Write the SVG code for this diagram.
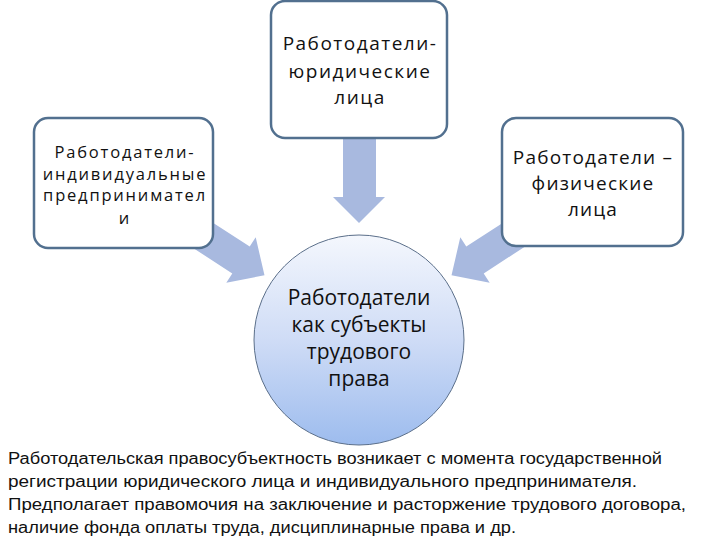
<svg xmlns="http://www.w3.org/2000/svg" width="720" height="540" viewBox="0 0 720 540">
<defs>
<linearGradient id="cg" x1="0" y1="0" x2="0" y2="1">
<stop offset="0" stop-color="#f4f7fd"/>
<stop offset="0.5" stop-color="#cfdcf6"/>
<stop offset="1" stop-color="#9dbcee"/>
</linearGradient>
<polygon id="arr" points="0,-16 -60,-16 -60,16 0,16 0,27 28,0 0,-27"/>
</defs>
<style>
.box{fill:#ffffff;stroke:#52708f;stroke-width:2.5}
.arrow{fill:#a8b9df}
.t{font-family:"Open Sans","Liberation Sans",sans-serif;fill:#111;text-anchor:middle}
.b{font-family:"Liberation Sans",sans-serif;font-size:16px;fill:#111}
</style>
<rect width="720" height="540" fill="#ffffff"/>
<g id="connectors">
<polygon class="arrow" points="343,136 376,136 376,197 385,197 359,223 333,197 343,197"/>
<use href="#arr" class="arrow" transform="translate(241,260) rotate(33)"/>
<use href="#arr" class="arrow" transform="translate(475,260) rotate(147)"/>
</g>
<g id="node-top">
<rect class="box" x="271" y="1" width="176" height="137" rx="14"/>
<text class="t" font-size="19" letter-spacing="1.5"><tspan x="360" y="50">Работодатели-</tspan><tspan x="360" y="78">юридические</tspan><tspan x="360" y="104">лица</tspan></text>
</g>
<g id="node-left">
<rect class="box" x="34" y="118" width="179" height="130" rx="14"/>
<text class="t" font-size="16.5" letter-spacing="1.8"><tspan x="125" y="158">Работодатели-</tspan><tspan x="125" y="180">индивидуальные</tspan><tspan x="125" y="201">предпринимател</tspan><tspan x="125" y="224">и</tspan></text>
</g>
<g id="node-right">
<rect class="box" x="502" y="118" width="181" height="128" rx="14"/>
<text class="t" font-size="19" letter-spacing="1.2"><tspan x="593" y="164">Работодатели –</tspan><tspan x="593" y="190">физические</tspan><tspan x="593" y="216">лица</tspan></text>
</g>
<g id="node-center">
<circle cx="359" cy="340" r="105" fill="url(#cg)" stroke="#5b6f8a" stroke-width="1"/>
<text class="t" font-size="21"><tspan x="359" y="305">Работодатели</tspan><tspan x="359" y="332">как субъекты</tspan><tspan x="359" y="359">трудового</tspan><tspan x="359" y="386">права</tspan></text>
</g>
<g id="caption">
<text class="b" x="8" y="464" textLength="654" lengthAdjust="spacingAndGlyphs">Работодательская правосубъектность возникает с момента государственной</text>
<text class="b" x="8" y="487" textLength="629" lengthAdjust="spacingAndGlyphs">регистрации юридического лица и индивидуального предпринимателя.</text>
<text class="b" x="8" y="510" textLength="678" lengthAdjust="spacingAndGlyphs">Предполагает правомочия на заключение  и расторжение трудового договора,</text>
<text class="b" x="8" y="533" textLength="508" lengthAdjust="spacingAndGlyphs">наличие  фонда оплаты труда, дисциплинарные права и др.</text>
</g>
</svg>
